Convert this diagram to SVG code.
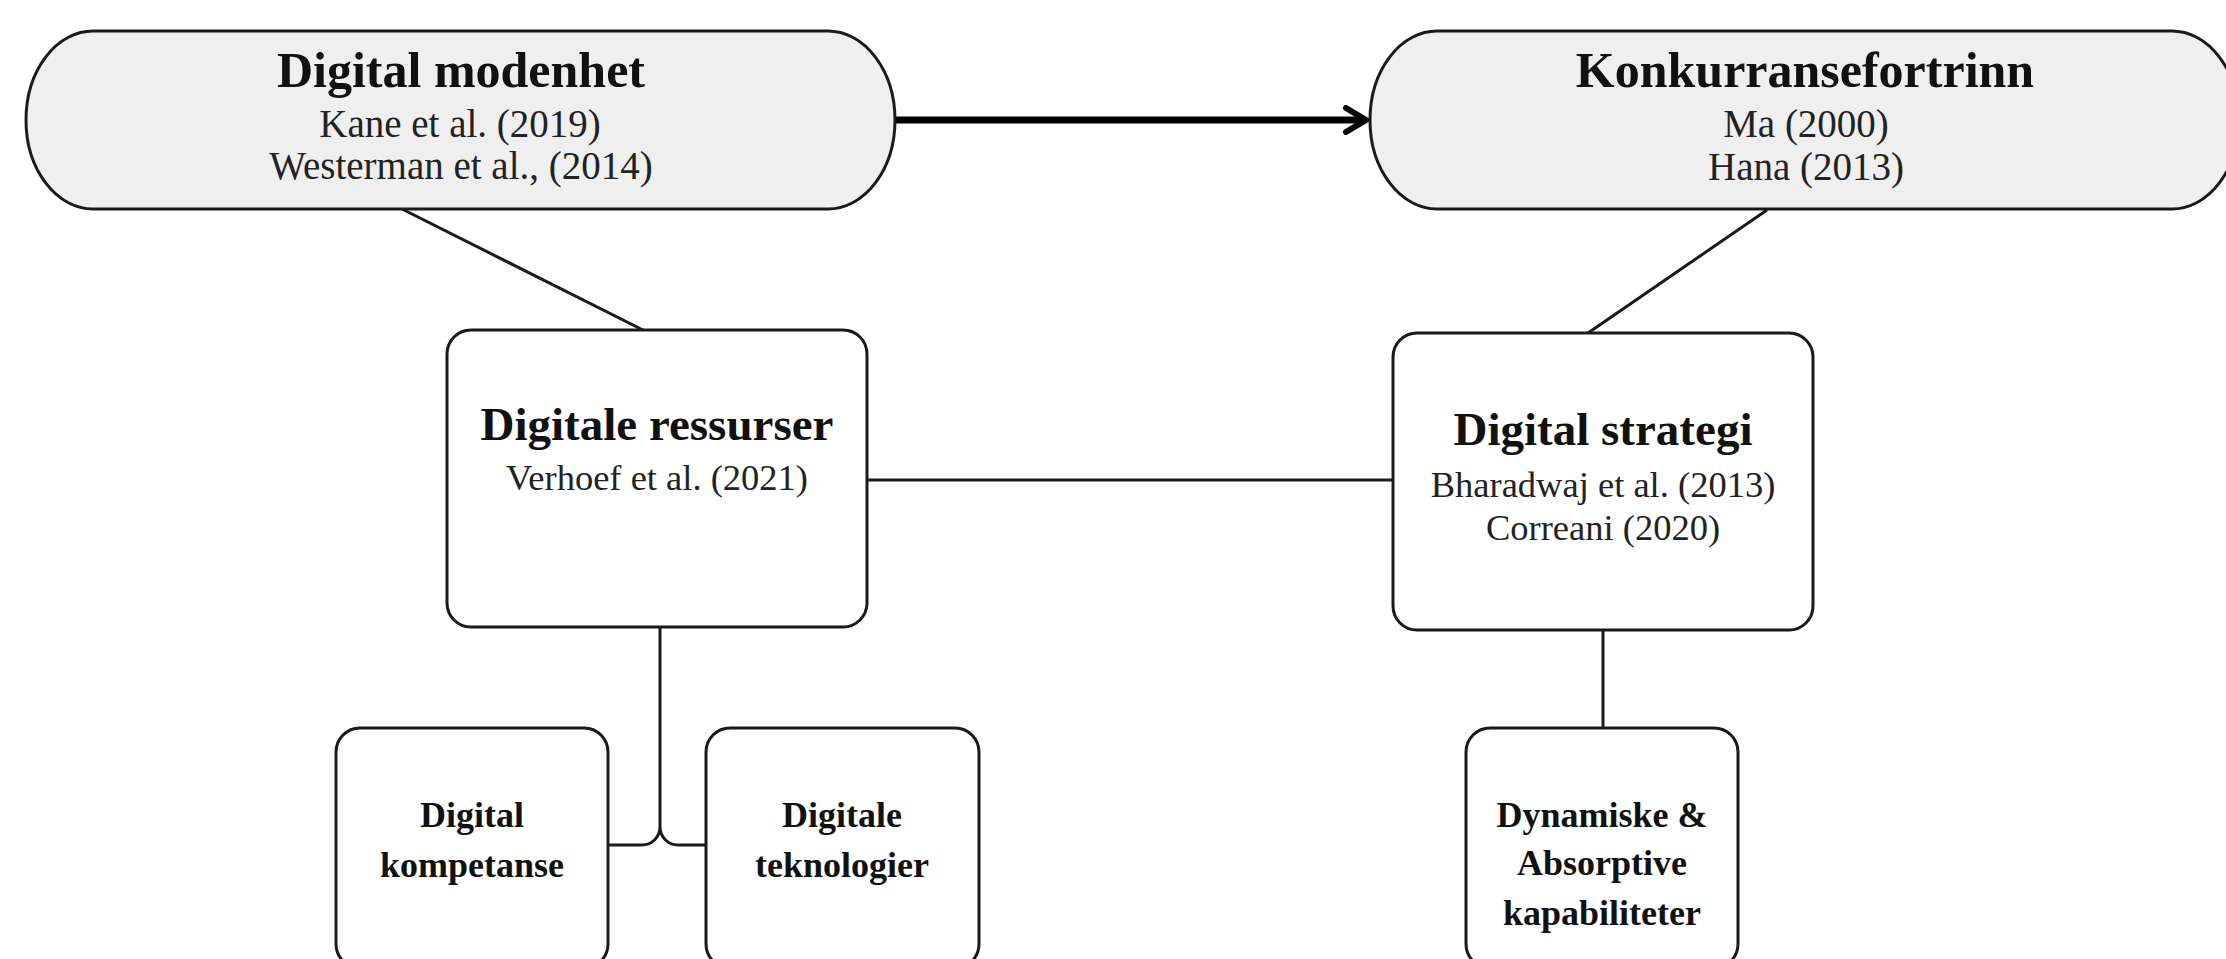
<svg xmlns="http://www.w3.org/2000/svg" width="2226" height="959" viewBox="0 0 2226 959">
<style>
text{font-family:"Liberation Serif","Times New Roman",serif;text-anchor:middle;fill:#111}
.t{font-weight:bold;font-size:50px}
.bt{font-weight:bold;font-size:47px}
.st{font-size:39px;fill:#222}
.sb{font-size:36.5px;fill:#222}
.sm{font-weight:bold;font-size:36px}
.pill{fill:#efefef;stroke:#1a1a1a;stroke-width:3}
.box{fill:#fff;stroke:#1a1a1a;stroke-width:3}
.con{fill:none;stroke:#1a1a1a;stroke-width:3}
</style>
<defs>
<marker id="ah" viewBox="0 0 30 30" refX="24" refY="15" markerWidth="30" markerHeight="30" markerUnits="userSpaceOnUse" orient="auto">
<path d="M4,3 L24,15 L4,27" fill="none" stroke="#000" stroke-width="6" stroke-linecap="round" stroke-linejoin="miter"/>
</marker>
</defs>
<rect width="2226" height="959" fill="#fff"/>
<g id="connectors">
<line x1="895" y1="120" x2="1366" y2="120" stroke="#000" stroke-width="7" marker-end="url(#ah)"/>
<line class="con" x1="402" y1="209" x2="643" y2="330"/>
<line class="con" x1="1767" y1="210" x2="1588" y2="333"/>
<line class="con" x1="867" y1="480" x2="1393" y2="480"/>
<path class="con" d="M660,627 V827 A18,18 0 0 1 642,845 H608 M660,827 A18,18 0 0 0 678,845 H706"/>
<line class="con" x1="1603" y1="630" x2="1603" y2="728"/>
</g>
<g id="digital-modenhet">
<rect class="pill" x="26" y="31" width="869" height="178" rx="67" ry="89"/>
<text class="t" x="461" y="87">Digital modenhet</text>
<text class="st" x="460" y="137">Kane et al. (2019)</text>
<text class="st" x="461" y="179">Westerman et al., (2014)</text>
</g>
<g id="konkurransefortrinn">
<rect class="pill" x="1370" y="31" width="869" height="178" rx="67" ry="89"/>
<text class="t" x="1805" y="87">Konkurransefortrinn</text>
<text class="st" x="1806" y="137">Ma (2000)</text>
<text class="st" x="1806" y="180">Hana (2013)</text>
</g>
<g id="digitale-ressurser">
<rect class="box" x="447" y="330" width="420" height="297" rx="24"/>
<text class="bt" x="657" y="440">Digitale ressurser</text>
<text class="sb" x="657" y="490">Verhoef et al. (2021)</text>
</g>
<g id="digital-strategi">
<rect class="box" x="1393" y="333" width="420" height="297" rx="24"/>
<text class="bt" x="1603" y="445">Digital strategi</text>
<text class="sb" x="1603" y="497">Bharadwaj et al. (2013)</text>
<text class="sb" x="1603" y="540">Correani (2020)</text>
</g>
<g id="digital-kompetanse">
<rect class="box" x="336" y="728" width="272" height="240" rx="24"/>
<text class="sm" x="472" y="827">Digital</text>
<text class="sm" x="472" y="877">kompetanse</text>
</g>
<g id="digitale-teknologier">
<rect class="box" x="706" y="728" width="273" height="240" rx="24"/>
<text class="sm" x="842" y="827">Digitale</text>
<text class="sm" x="842" y="877">teknologier</text>
</g>
<g id="dynamiske-kapabiliteter">
<rect class="box" x="1466" y="728" width="272" height="240" rx="24"/>
<text class="sm" x="1602" y="827">Dynamiske &amp;</text>
<text class="sm" x="1602" y="875">Absorptive</text>
<text class="sm" x="1602" y="925">kapabiliteter</text>
</g>
</svg>
